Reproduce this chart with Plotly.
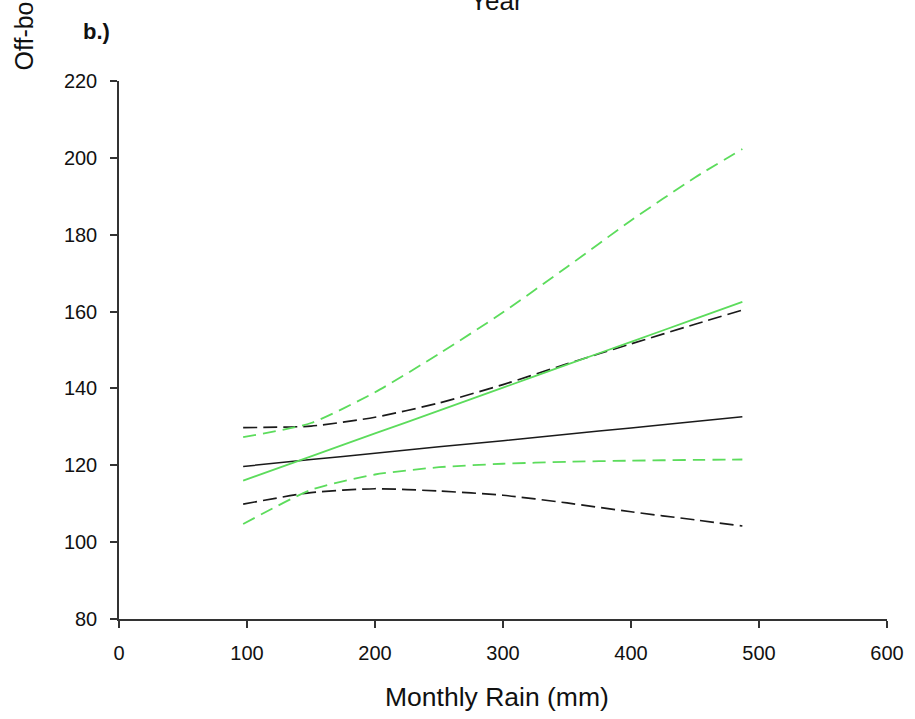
import plotly.graph_objects as go

# Monthly rain sample positions (mm)
rain = [97, 150, 200, 250, 300, 350, 400, 450, 487]

# Black series: fit and 95% bounds
black_fit = [119.7, 121.5, 123.1, 124.8, 126.4, 128.1, 129.7, 131.4, 132.6]
black_upper = [129.8, 130.2, 132.5, 136.2, 141.0, 146.4, 151.6, 156.7, 160.4]
black_lower = [109.9, 112.9, 113.9, 113.3, 112.2, 110.2, 107.9, 105.8, 104.2]

# Green series: fit and 95% bounds
green_fit = [116.0, 122.3, 128.3, 134.2, 140.2, 146.2, 152.1, 158.1, 162.5]
green_upper = [127.3, 131.0, 139.0, 149.0, 159.8, 171.6, 183.7, 194.9, 202.3]
green_lower = [104.7, 113.6, 117.6, 119.5, 120.4, 120.9, 121.2, 121.4, 121.5]

x_ticks = [0, 100, 200, 300, 400, 500, 600]
y_ticks = [80, 100, 120, 140, 160, 180, 200, 220]

GREEN = "#5cdc5c"
BLACK = "#1a1a1a"
FONT = "Liberation Sans, Arial, Helvetica, sans-serif"

fig = go.Figure()

def add(y, color, dash, width):
    fig.add_trace(go.Scatter(x=rain, y=y, mode="lines",
                             line=dict(color=color, dash=dash, width=width, shape="spline", smoothing=0.6),
                             showlegend=False, hoverinfo="skip"))

add(black_upper, BLACK, "14px,6px", 1.7)
add(black_lower, BLACK, "14px,6px", 1.7)
add(black_fit, BLACK, "solid", 1.5)
add(green_upper, GREEN, "13px,7px", 1.8)
add(green_lower, GREEN, "13px,7px", 1.8)
add(green_fit, GREEN, "solid", 1.8)

L, R, T, B = 119, 28, 81, 100
W, H = 915, 719
pw = W - L - R
ph = H - T - B

def px_x(px):
    return (px - L) / pw

def px_y(py):
    return (H - B - py) / ph

axis_common = dict(showgrid=False, zeroline=False, showline=True, linecolor="#333",
                   linewidth=1.5, ticks="outside", ticklen=7, tickwidth=1.5,
                   tickcolor="#333", tickfont=dict(family=FONT, size=20, color="#111"))

fig.update_layout(
    width=W, height=H,
    margin=dict(l=L, r=R, t=T, b=B, pad=0),
    paper_bgcolor="white", plot_bgcolor="white",
    xaxis=dict(range=[0, 600], tickvals=x_ticks, ticklabelstandoff=8, **axis_common),
    yaxis=dict(range=[80, 220], tickvals=y_ticks, ticklabelstandoff=9, **axis_common),
    annotations=[
        dict(text="Monthly Rain (mm)", xref="paper", yref="paper",
             x=px_x(496.5), y=px_y(697), xanchor="center", yanchor="middle",
             showarrow=False, font=dict(family=FONT, size=26.5, color="#111")),
        dict(text="Year", xref="paper", yref="paper",
             x=px_x(496.5), y=px_y(18), xanchor="center", yanchor="bottom",
             showarrow=False, font=dict(family=FONT, size=26, color="#111")),
        dict(text="<b>b.)</b>", xref="paper", yref="paper",
             x=px_x(96), y=px_y(32), xanchor="center", yanchor="middle",
             showarrow=False, font=dict(family=FONT, size=22, color="#111")),
        dict(text="Off-bo", xref="paper", yref="paper", textangle=-90,
             x=px_x(24), y=px_y(73), xanchor="center", yanchor="bottom",
             showarrow=False, font=dict(family=FONT, size=25, color="#111")),
    ],
)

fig.write_html("out.html")
